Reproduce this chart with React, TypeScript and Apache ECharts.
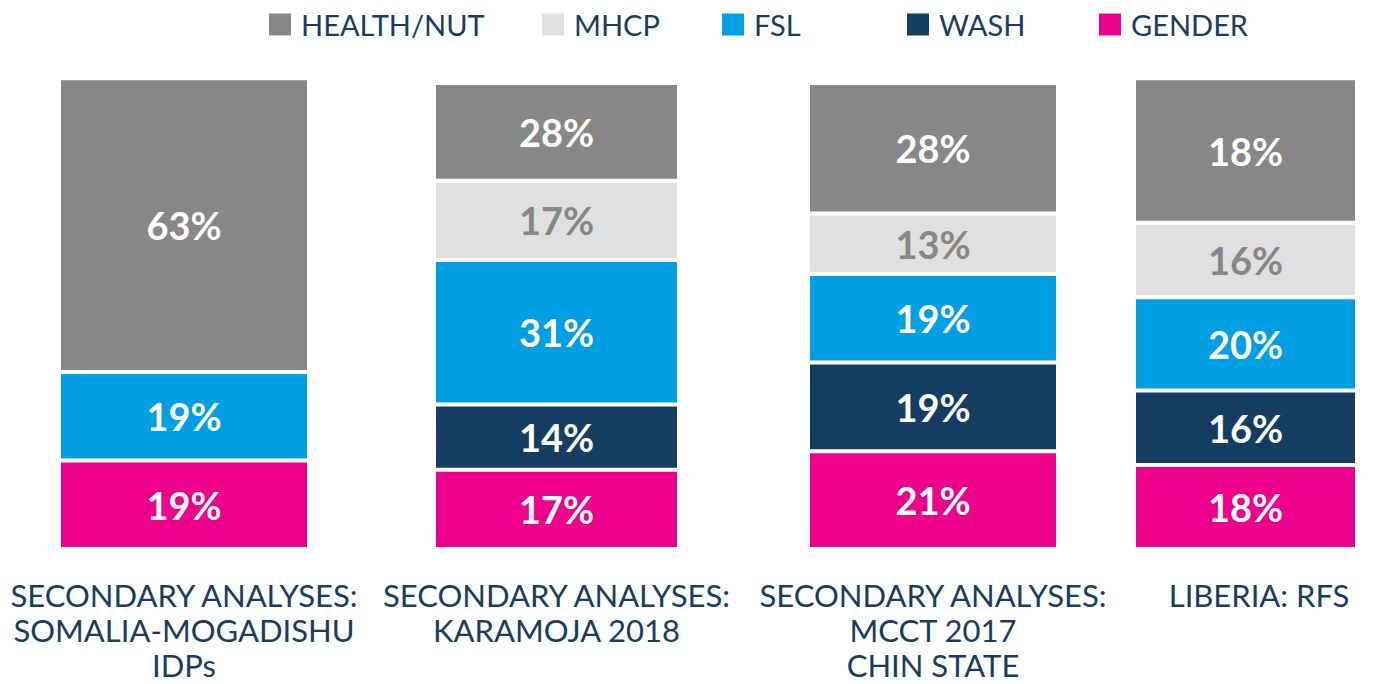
import React, { useEffect, useRef } from "react";
import * as echarts from "echarts";

const categories = [
  "SECONDARY ANALYSES:\nSOMALIA-MOGADISHU\nIDPs",
  "SECONDARY ANALYSES:\nKARAMOJA 2018",
  "SECONDARY ANALYSES:\nMCCT 2017\nCHIN STATE",
  "LIBERIA: RFS",
];

// segment sizes as drawn
const healthValues = [63, 21, 28, 31];
const mhcpValues = [null, 17, 13, 16];
const fslValues = [19, 31, 19, 20];
const washValues = [null, 14, 19, 16];
const genderValues = [19, 17, 21, 18];

// labels as printed on the chart
const healthLabels = ["63%", "28%", "28%", "18%"];

const seriesNames = ["HEALTH/NUT", "MHCP", "FSL", "WASH", "GENDER"];

const FONT = "Lato";
const NAVY = "#1a3c5f";

export default function App() {
  const ref = useRef<HTMLDivElement>(null);

  useEffect(() => {
    if (!ref.current) return;
    const chart = echarts.init(ref.current, null, { renderer: "svg" });

    const gridLefts = [59, 434, 808, 1134];
    const gridWidths = [250, 245, 250, 223];
    const gridTop = 59.7;
    const gridHeight = 489.3;

    const defs = [
      { name: "GENDER", values: genderValues, color: "#ec008c", labelColor: "#ffffff" },
      { name: "WASH", values: washValues, color: "#143d61", labelColor: "#ffffff" },
      { name: "FSL", values: fslValues, color: "#009fe3", labelColor: "#ffffff" },
      { name: "MHCP", values: mhcpValues, color: "#e0e0e0", labelColor: "#878787" },
      { name: "HEALTH/NUT", values: healthValues, color: "#878787", labelColor: "#ffffff", labels: healthLabels },
    ];

    const grids: any[] = [];
    const xAxes: any[] = [];
    const yAxes: any[] = [];
    const series: any[] = [];

    categories.forEach((cat, i) => {
      grids.push({ left: gridLefts[i], width: gridWidths[i], top: gridTop, height: gridHeight });
      xAxes.push({
        gridIndex: i,
        type: "category",
        data: [cat],
        axisLine: { show: false },
        axisTick: { show: false },
        axisLabel: {
          interval: 0,
          margin: 28,
          fontFamily: FONT,
          fontSize: 31,
          lineHeight: 35,
          color: NAVY,
          padding: i === 3 ? [0, 0, 0, 27] : 0,
        },
      });
      yAxes.push({ gridIndex: i, type: "value", min: 0, max: 105, show: false });
      defs.forEach((d) => {
        const v = d.values[i];
        if (v === null || v === undefined) return;
        series.push({
          name: d.name,
          type: "bar",
          xAxisIndex: i,
          yAxisIndex: i,
          stack: "s" + i,
          barWidth: gridWidths[i],
          data: [v],
          itemStyle: { color: d.color, borderColor: "#ffffff", borderWidth: 2 },
          label: {
            show: true,
            position: "inside",
            formatter: d.labels ? d.labels[i] : v + "%",
            color: d.labelColor,
            fontFamily: FONT,
            fontWeight: "bold",
            fontSize: 38,
          },
        });
      });
    });

    const legendLefts = [267, 540, 720, 905, 1097];
    const legends = seriesNames.map((n, i) => ({
      data: [n],
      left: legendLefts[i],
      top: 10,
      padding: 0,
      icon: "rect",
      itemWidth: 24,
      itemHeight: 24,
      selectedMode: false,
      textStyle: { fontFamily: FONT, fontSize: 29, color: NAVY, padding: [0, 0, 0, 4] },
    }));

    chart.setOption({
      animation: false,
      backgroundColor: "#ffffff",
      legend: legends,
      grid: grids,
      xAxis: xAxes,
      yAxis: yAxes,
      series,
    });

    return () => chart.dispose();
  }, []);

  return (
    <div
      ref={ref}
      style={{ position: "fixed", left: 0, top: 0, width: 1390, height: 684 }}
    />
  );
}
